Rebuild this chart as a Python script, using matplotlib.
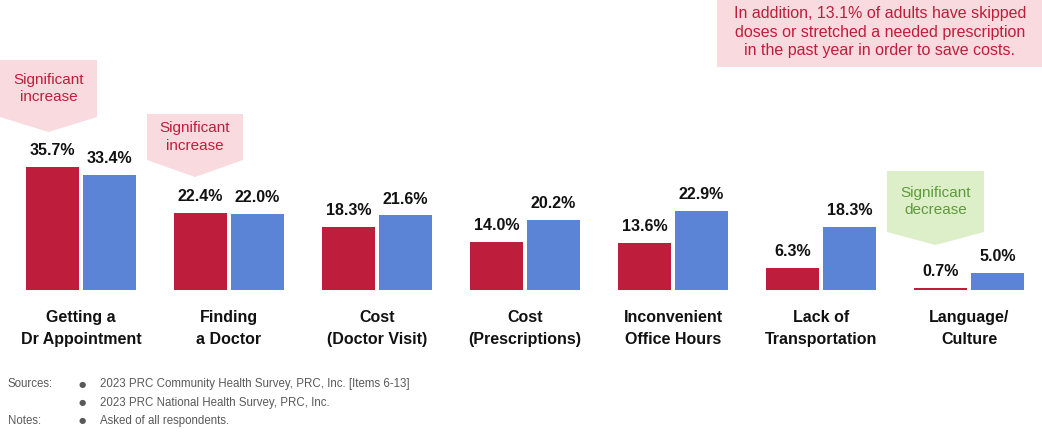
import numpy as np
import matplotlib
matplotlib.use('Agg')
import matplotlib.pyplot as plt
from matplotlib.patches import Polygon, Rectangle

# data
cats = ['Getting a\nDr Appointment', 'Finding\na Doctor', 'Cost\n(Doctor Visit)',
        'Cost\n(Prescriptions)', 'Inconvenient\nOffice Hours', 'Lack of\nTransportation',
        'Language/\nCulture']
local = [35.7, 22.4, 18.3, 14.0, 13.6, 6.3, 0.7]
us = [33.4, 22.0, 21.6, 20.2, 22.9, 18.3, 5.0]
note = 'In addition, 13.1% of adults have skipped\ndoses or stretched a needed prescription\nin the past year in order to save costs.'
sources = ['2023 PRC Community Health Survey, PRC, Inc. [Items 6-13]',
           '2023 PRC National Health Survey, PRC, Inc.']
notes = ['Asked of all respondents.']

red = '#BE1E3B'
blue = '#5B84D6'
pink = '#F9DADF'
green_fill = '#DDEFC9'
green_txt = '#5E9A3A'
grey = '#595959'
fam = ['Liberation Sans', 'DejaVu Sans']

W, H = 1042, 433
fig = plt.figure(figsize=(W/100, H/100), dpi=100)
ax = fig.add_axes([0, 0, 1, 1])
# pixel mapping: group spacing 148px, first center x=81, baseline y=290, 3.45 px per %
ax.set_xlim(-81/148., (W-81)/148.)
ax.set_ylim(-(H-290)/3.45, 290/3.45)
ax.axis('off')

x = np.arange(len(cats))
bw = 53/148.
off = 28.5/148.
b1 = ax.bar(x-off, local, bw, color=red)
b2 = ax.bar(x+off, us, bw, color=blue)
for bars, vals in ((b1, local), (b2, us)):
    for b, v in zip(bars, vals):
        ax.annotate('%.1f%%' % v, (b.get_x()+b.get_width()/2, v), xytext=(0, 8.6),
                    textcoords='offset points', ha='center', va='baseline',
                    fontsize=11.5, fontweight='bold', family=fam, color='#111111')
for xi, c in zip(x, cats):
    ax.annotate(c, (xi, 0), xytext=(0, -14.5), textcoords='offset points',
                ha='center', va='top', fontsize=11.5, fontweight='bold', family=fam,
                linespacing=1.6, color='#111111')

# overlay in pixel coords
ov = fig.add_axes([0, 0, 1, 1])
ov.set_xlim(0, W)
ov.set_ylim(H, 0)
ov.axis('off')
ov.patch.set_alpha(0)

def callout(x0, x1, y0, y1, ytip, fc, tc, txt):
    xm = (x0+x1)/2.
    ov.add_patch(Polygon([(x0, y0), (x1, y0), (x1, y1), (xm, ytip), (x0, y1)],
                         closed=True, fc=fc, ec='none'))
    ov.text(xm, (y0+y1)/2., txt, ha='center', va='center', fontsize=11,
            family=fam, color=tc, linespacing=1.3)

callout(0, 97, 60, 117, 132, pink, red, 'Significant\nincrease')
callout(147, 243, 114, 160, 177, pink, red, 'Significant\nincrease')
callout(887, 984, 171, 232, 245, green_fill, green_txt, 'Significant\ndecrease')

ov.add_patch(Rectangle((717, 0), W-717, 67, fc=pink, ec='none'))
ov.text(880, 32, note, ha='center', va='center', fontsize=11.5, family=fam,
        color=red, linespacing=1.3)

# footer
ov.text(8, 384, 'Sources:', ha='left', va='center', fontsize=8.3, family=fam, color=grey)
ov.text(8, 421, 'Notes:', ha='left', va='center', fontsize=8.3, family=fam, color=grey)
for i, s in enumerate(sources + notes):
    yy = [384, 403, 421][i]
    ov.text(82, yy, '\u25cf', ha='center', va='center', fontsize=6, family=['DejaVu Sans'], color=grey)
    ov.text(100, yy, s, ha='left', va='center', fontsize=8.3, family=fam, color=grey)

fig.savefig('out.png', dpi=100)
